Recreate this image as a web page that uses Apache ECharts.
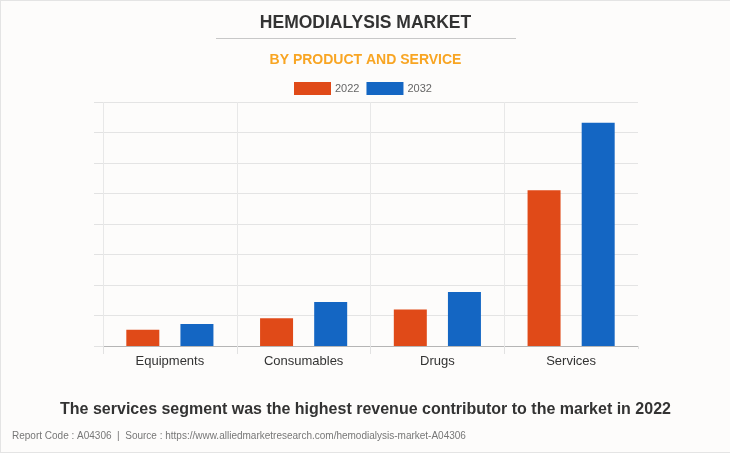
<!DOCTYPE html>
<html>
<head>
<meta charset="utf-8">
<script src="https://cdn.jsdelivr.net/npm/echarts@6/dist/echarts.min.js"></script>
<style>
  html, body { margin: 0; padding: 0; background: #fdfcfb; }
  #chart { width: 730px; height: 453px; box-sizing: border-box; border-top: 1px solid #e4e4e4; border-left: 1px solid #e4e4e4; border-bottom: 1px solid #e4e4e4; }
</style>
</head>
<body>
<div id="chart"></div>
<script>
  // data (arbitrary units, 10 per grid step)
  const categories = ['Equipments', 'Consumables', 'Drugs', 'Services'];
  const years = ['2022', '2032'];
  const values2022 = [5.3, 9.1, 12.0, 51.1];
  const values2032 = [7.2, 14.4, 17.7, 73.2];

  const FONT = '"Liberation Sans", Arial, sans-serif';

  const myChart = echarts.init(document.getElementById('chart'));

  const getOption = () => {
    return {
      backgroundColor: 'transparent',
      textStyle: { fontFamily: FONT },
      title: [
        {
          text: 'HEMODIALYSIS MARKET',
          left: 'center',
          top: 8,
          textStyle: { fontSize: 17.5, fontWeight: 'bold', color: '#333', fontFamily: FONT },
        },
        {
          text: 'BY PRODUCT AND SERVICE',
          left: 'center',
          top: 47,
          textStyle: { fontSize: 14, fontWeight: 'bold', color: '#f8a523', fontFamily: FONT },
        },
        {
          text: 'The services segment was the highest revenue contributor to the market in 2022',
          left: 'center',
          top: 396,
          textStyle: { fontSize: 16, fontWeight: 'bold', color: '#333', fontFamily: FONT },
        },
        {
          text: 'Report Code : A04306  |  Source : https://www.alliedmarketresearch.com/hemodialysis-market-A04306',
          left: 6,
          top: 425,
          textStyle: { fontSize: 10, fontWeight: 'normal', color: '#777', fontFamily: FONT },
        },
      ],
      graphic: [
        {
          type: 'line',
          shape: { x1: 215, y1: 37.5, x2: 515, y2: 37.5 },
          style: { stroke: '#c8c8c8', lineWidth: 1 },
        },
        {
          // hide the last x tick below the axis, the reference has none there
          type: 'rect',
          silent: true,
          z: 100,
          shape: { x: 636, y: 348, width: 5, height: 10 },
          style: { fill: '#fdfcfb' },
        },
      ],
      legend: {
        left: 288,
        top: 76,
        itemWidth: 37,
        itemHeight: 13,
        itemGap: 7,
        icon: 'rect',
        data: years,
        textStyle: { fontSize: 11, color: '#666', padding: [0, 0, 0, -1] },
      },
      grid: { left: 102, right: 92, top: 101, bottom: 106 },
      xAxis: {
        type: 'category',
        data: categories,
        axisLine: { lineStyle: { color: '#b5b5b5' } },
        axisTick: { show: true, length: 8, lineStyle: { color: '#e2e2e2' } },
        splitLine: { show: true, showMaxLine: false, lineStyle: { color: '#e8e8e8' } },
        axisLabel: { color: '#333', fontSize: 13, margin: 9 },
      },
      yAxis: {
        type: 'value',
        min: 0,
        max: 80,
        interval: 10,
        axisLabel: { show: false },
        axisLine: { show: false },
        axisTick: { show: true, length: 9, lineStyle: { color: '#e2e2e2' } },
        splitLine: { lineStyle: { color: '#e4e4e4' } },
      },
      series: [
        {
          name: '2022',
          type: 'bar',
          data: values2022,
          barWidth: 33,
          barGap: '64%',
          itemStyle: { color: '#e04a18' },
        },
        {
          name: '2032',
          type: 'bar',
          data: values2032,
          barWidth: 33,
          itemStyle: { color: '#1466c3' },
        },
      ],
    };
  };

  myChart.setOption(getOption());
</script>
</body>
</html>
